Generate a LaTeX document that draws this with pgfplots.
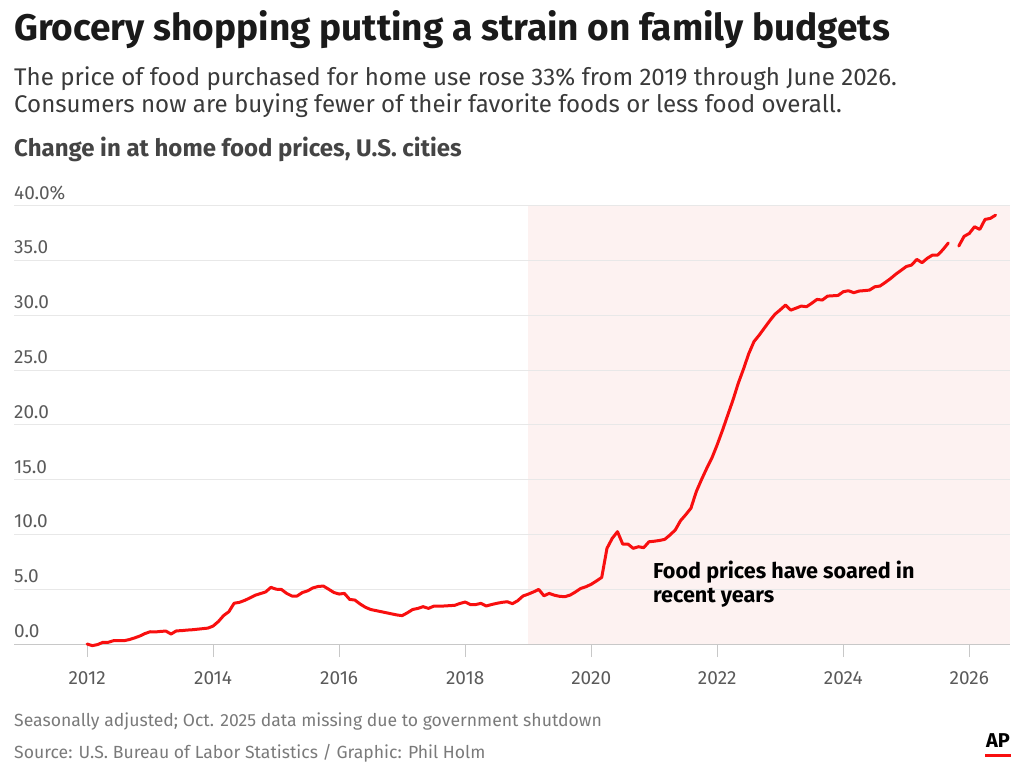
\documentclass[border=0pt]{standalone}
\usepackage{pgfplots}
\pgfplotsset{compat=1.18}
\usepackage{fontspec}
\setmainfont{Fira Sans}
\definecolor{titlec}{HTML}{1A1A1A}
\definecolor{subc}{HTML}{3A3A3A}
\definecolor{headc}{HTML}{444444}
\definecolor{tickc}{HTML}{5A5A5A}
\definecolor{gridc}{HTML}{E8E8E8}
\definecolor{basec}{HTML}{C8C8C8}
\definecolor{shadec}{HTML}{FDF2F1}
\definecolor{linec}{HTML}{F80F0F}
\definecolor{footc}{HTML}{7A7A7A}
\begin{document}
\begin{tikzpicture}
\begin{axis}[
  set layers,
  scale only axis,
  width=996pt, height=438.3pt,
  at={(14pt,-644pt)}, anchor=south west,
  xmin=2010.84, xmax=2026.646,
  ymin=0, ymax=40,
  axis x line*=bottom, axis y line*=left,
  x axis line style={draw=basec, line width=1pt},
  y axis line style={draw=none},
  ytick={0,5,...,40},
  yticklabels={0.0,5.0,10.0,15.0,20.0,25.0,30.0,35.0,40.0\%},
  ytick style={draw=none},
  ymajorgrids, grid style={draw=gridc, line width=1pt},
  xtick={2012,2014,...,2026},
  xticklabels={2012,2014,2016,2018,2020,2022,2024,2026},
  xtick align=outside,
  xtick style={draw=basec, line width=1pt},
  major tick length=13pt,
  tick label style={font=\fontsize{19}{21}\selectfont, text=tickc},
  yticklabel style={anchor=base west, inner sep=0pt, xshift=0pt, yshift=6.5pt},
  xticklabel style={anchor=north, inner sep=0pt, yshift=-14.5pt},
  clip=false,
]
\addplot[draw=none, fill=shadec, on layer=axis background] coordinates {(2019,40) (2026.646,40)} \closedcycle;
\addplot[linec, line width=3pt, line join=round, line cap=round] coordinates {
(2012.000,0.0) (2012.083,-0.15) (2012.167,-0.05) (2012.250,0.15) (2012.333,0.15) (2012.417,0.3) (2012.500,0.3) (2012.583,0.3) (2012.667,0.4) (2012.750,0.55) (2012.833,0.72) (2012.917,0.95)
(2013.000,1.12) (2013.083,1.1) (2013.167,1.15) (2013.250,1.18) (2013.333,0.91) (2013.417,1.2) (2013.500,1.22) (2013.583,1.27) (2013.667,1.3) (2013.750,1.35) (2013.833,1.4) (2013.917,1.45)
(2014.000,1.64) (2014.083,2.05) (2014.167,2.6) (2014.250,2.95) (2014.333,3.72) (2014.417,3.8) (2014.500,3.98) (2014.583,4.2) (2014.667,4.45) (2014.750,4.6) (2014.833,4.75) (2014.917,5.17)
(2015.000,5.0) (2015.083,4.98) (2015.167,4.62) (2015.250,4.38) (2015.333,4.38) (2015.417,4.7) (2015.500,4.85) (2015.583,5.12) (2015.667,5.25) (2015.750,5.29) (2015.833,5.0) (2015.917,4.7)
(2016.000,4.56) (2016.083,4.62) (2016.167,4.07) (2016.250,4.01) (2016.333,3.65) (2016.417,3.35) (2016.500,3.15) (2016.583,3.05) (2016.667,2.95) (2016.750,2.85) (2016.833,2.75) (2016.917,2.65)
(2017.000,2.59) (2017.083,2.85) (2017.167,3.15) (2017.250,3.25) (2017.333,3.41) (2017.417,3.25) (2017.500,3.45) (2017.583,3.45) (2017.667,3.47) (2017.750,3.5) (2017.833,3.53) (2017.917,3.7)
(2018.000,3.83) (2018.083,3.6) (2018.167,3.6) (2018.250,3.71) (2018.333,3.47) (2018.417,3.6) (2018.500,3.71) (2018.583,3.8) (2018.667,3.86) (2018.750,3.68) (2018.833,3.95) (2018.917,4.38)
(2019.000,4.55) (2019.083,4.75) (2019.167,4.98) (2019.250,4.4) (2019.333,4.62) (2019.417,4.45) (2019.500,4.35) (2019.583,4.32) (2019.667,4.47) (2019.750,4.75) (2019.833,5.07) (2019.917,5.23)
(2020.000,5.45) (2020.083,5.75) (2020.167,6.08) (2020.250,8.73) (2020.333,9.64) (2020.417,10.25) (2020.500,9.12) (2020.583,9.12) (2020.667,8.73) (2020.750,8.88) (2020.833,8.79) (2020.917,9.33)
(2021.000,9.38) (2021.083,9.45) (2021.167,9.55) (2021.250,9.95) (2021.333,10.4) (2021.417,11.25) (2021.500,11.8) (2021.583,12.4) (2021.667,13.9) (2021.750,15.0) (2021.833,16.03) (2021.917,17.0)
(2022.000,18.2) (2022.083,19.5) (2022.167,20.9) (2022.250,22.27) (2022.333,23.79) (2022.417,25.1) (2022.500,26.5) (2022.583,27.6) (2022.667,28.2) (2022.750,28.85) (2022.833,29.5) (2022.917,30.1)
(2023.000,30.5) (2023.083,30.93) (2023.167,30.47) (2023.250,30.65) (2023.333,30.84) (2023.417,30.78) (2023.500,31.1) (2023.583,31.45) (2023.667,31.39) (2023.750,31.75) (2023.833,31.78) (2023.917,31.81)
(2024.000,32.15) (2024.083,32.24) (2024.167,32.06) (2024.250,32.21) (2024.333,32.25) (2024.417,32.3) (2024.500,32.6) (2024.583,32.67) (2024.667,33.0) (2024.750,33.35) (2024.833,33.75) (2024.917,34.1)
(2025.000,34.45) (2025.083,34.58) (2025.167,35.1) (2025.250,34.8) (2025.333,35.2) (2025.417,35.5) (2025.500,35.5) (2025.583,36.0) (2025.667,36.6)
};
\addplot[linec, line width=3pt, line join=round, line cap=round] coordinates {
(2025.833,36.32) (2025.917,37.2) (2026.000,37.47) (2026.083,38.08) (2026.167,37.84) (2026.250,38.75) (2026.333,38.84) (2026.417,39.14)
};
\end{axis}
\node[anchor=base west, inner sep=0pt, text=titlec, font=\fontsize{37}{40}\selectfont\bfseries] at (14pt,-41pt) {Grocery shopping putting a strain on family budgets};
\node[anchor=base west, inner sep=0pt, text=subc, font=\fontsize{24.1}{27}\selectfont] at (14pt,-85pt) {The price of food purchased for home use rose 33\% from 2019 through June 2026.};
\node[anchor=base west, inner sep=0pt, text=subc, font=\fontsize{24.1}{27}\selectfont] at (14pt,-112pt) {Consumers now are buying fewer of their favorite foods or less food overall.};
\node[anchor=base west, inner sep=0pt, text=headc, font=\fontsize{24}{26}\selectfont\bfseries] at (14pt,-156pt) {Change in at home food prices, U.S. cities};
\node[anchor=base west, inner sep=0pt, text=black, font=\fontsize{21.6}{23}\selectfont\bfseries] at (653pt,-578pt) {Food prices have soared in};
\node[anchor=base west, inner sep=0pt, text=black, font=\fontsize{21.6}{23}\selectfont\bfseries] at (653pt,-602pt) {recent years};
\node[anchor=base west, inner sep=0pt, text=footc, font=\fontsize{17.6}{19}\selectfont] at (14pt,-726pt) {Seasonally adjusted; Oct. 2025 data missing due to government shutdown};
\node[anchor=base west, inner sep=0pt, text=footc, font=\fontsize{17.6}{19}\selectfont] at (14pt,-758pt) {Source: U.S. Bureau of Labor Statistics / Graphic: Phil Holm};
\node[anchor=base east, inner sep=0pt, text=black, font=\fontsize{20}{22}\selectfont\bfseries] at (1010pt,-747pt) {AP};
\fill[linec] (985pt,-753.5pt) rectangle (1011pt,-756.5pt);
\pgfresetboundingbox
\path[use as bounding box] (0pt,0pt) rectangle (1024pt,-776pt);
\end{tikzpicture}
\end{document}
